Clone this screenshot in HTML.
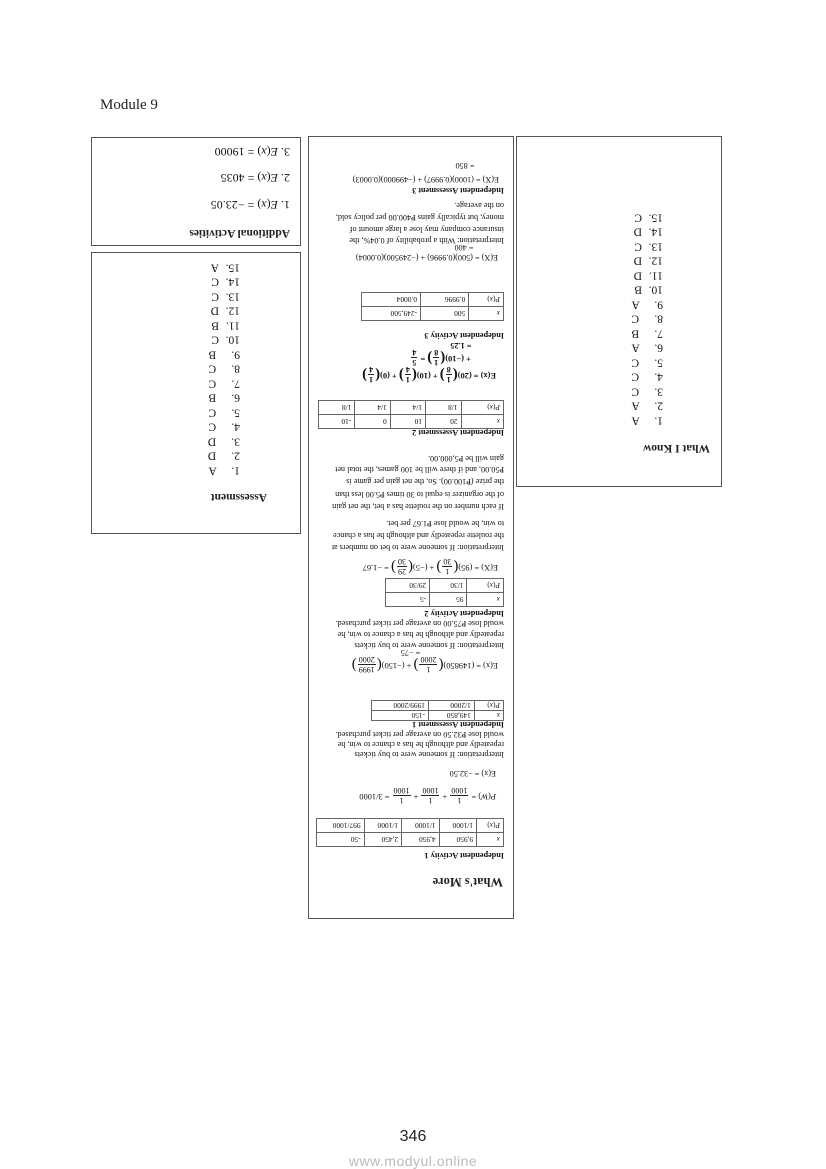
<!DOCTYPE html>
<html><head><meta charset="utf-8">
<style>
body{margin:0;background:#fff;}
#pg{position:relative;width:826px;height:1169px;overflow:hidden;font-family:"Liberation Serif",serif;color:#222;}
.box{position:absolute;border:1.5px solid #555;box-sizing:border-box;}
.r{position:absolute;transform:rotate(180deg);white-space:nowrap;text-align:left;}
.t{font-size:8.2px;line-height:10px;height:10px;color:#111;}
.b{font-weight:bold;}
.h{font-weight:bold;font-size:11.5px;line-height:14px;height:14px;}
.f{display:inline-block;vertical-align:middle;text-align:center;line-height:9px;font-size:8px;margin:0 1px;}
.f span{display:block;padding:0 1px;}
.f span:first-child{border-bottom:0.8px solid #222;}
.p{font-size:15px;vertical-align:middle;}
.eq{font-size:8.4px;line-height:24px;height:24px;color:#111;}
table{border-collapse:collapse;font-size:7.4px;color:#111;}
td{border:0.8px solid #666;padding:0 3px;height:13px;}
.list{font-size:11.5px;color:#111;}
.list div{height:14.5px;line-height:14.5px;}
.list span{display:inline-block;width:21px;}
</style></head><body><div id="pg">

<div style="position:absolute;left:100px;top:97px;font-size:15px;">Module 9</div>

<!-- boxes -->
<div class="box" style="left:91px;top:137px;width:210px;height:109px;"></div>
<div class="box" style="left:91px;top:252px;width:210px;height:282px;"></div>
<div class="box" style="left:308px;top:136px;width:206px;height:783px;"></div>
<div class="box" style="left:516px;top:136px;width:206px;height:351px;"></div>

<!-- Additional Activities -->
<div class="r h" style="left:150px;top:226px;width:140px;">Additional Activities</div>
<div class="r" style="left:185px;top:197px;width:105px;font-size:12px;line-height:15px;color:#111;">1. <i>E</i>(<i>x</i>) = −23.05</div>
<div class="r" style="left:185px;top:170px;width:105px;font-size:12px;line-height:15px;color:#111;">2. <i>E</i>(<i>x</i>) = 4035</div>
<div class="r" style="left:185px;top:144px;width:105px;font-size:12px;line-height:15px;color:#111;">3. <i>E</i>(<i>x</i>) = 19000</div>

<!-- Assessment -->
<div class="r h" style="left:182px;top:490px;width:85px;">Assessment</div>
<div class="r list" style="left:200px;top:260px;width:40px;">
<div><span>1.</span> A</div><div><span>2.</span> D</div><div><span>3.</span> D</div><div><span>4.</span> C</div><div><span>5.</span> C</div><div><span>6.</span> B</div><div><span>7.</span> C</div><div><span>8.</span> C</div><div><span>9.</span> B</div><div><span>10.</span>C</div><div><span>11.</span>B</div><div><span>12.</span>D</div><div><span>13.</span>C</div><div><span>14.</span>C</div><div><span>15.</span>A</div>
</div>

<!-- What I Know -->
<div class="r h" style="left:622px;top:441px;width:88px;">What I Know</div>
<div class="r list" style="left:620px;top:210px;width:43px;">
<div><span>1.</span> A</div><div><span>2.</span> A</div><div><span>3.</span> C</div><div><span>4.</span> C</div><div><span>5.</span> C</div><div><span>6.</span> A</div><div><span>7.</span> B</div><div><span>8.</span> C</div><div><span>9.</span> A</div><div><span>10.</span>B</div><div><span>11.</span>D</div><div><span>12.</span>D</div><div><span>13.</span>C</div><div><span>14.</span>D</div><div><span>15.</span>C</div>
</div>

<!-- What's More -->
<div class="r h" style="left:412px;top:875px;width:91px;font-size:12.5px;">What's More</div>
<div class="r t b" style="left:318px;top:850px;width:186px;">Independent Activity 1</div>
<div class="r" style="left:316px;top:818px;width:188px;">
<table style="width:188px;"><tr><td><i>x</i></td><td>9,950</td><td>4,950</td><td>2,450</td><td>-50</td></tr>
<tr><td><i>P</i>(<i>x</i>)</td><td>1/1000</td><td>1/1000</td><td>1/1000</td><td>997/1000</td></tr></table></div>
<div class="r eq" style="left:318px;top:784px;width:178px;"><i>P</i>(<i>W</i>) = <span class="f"><span>1</span><span>1000</span></span> + <span class="f"><span>1</span><span>1000</span></span> + <span class="f"><span>1</span><span>1000</span></span> = 3/1000</div>
<div class="r t" style="left:318px;top:768px;width:178px;">E(x) = −32.50</div>
<div class="r t" style="left:318px;top:749px;width:186px;">Interpretation: If someone were to buy tickets</div>
<div class="r t" style="left:318px;top:739px;width:186px;">repeatedly and although he has a chance to win, he</div>
<div class="r t" style="left:318px;top:729px;width:186px;">would lose ₱32.50 on average per ticket purchased.</div>
<div class="r t b" style="left:318px;top:719px;width:186px;">Independent Assessment 1</div>
<div class="r" style="left:371px;top:700px;width:133px;">
<table style="width:133px;"><tr><td style="height:8px"><i>x</i></td><td style="height:8px">149,850</td><td style="height:8px">-150</td></tr>
<tr><td style="height:8px"><i>P</i>(<i>x</i>)</td><td style="height:8px">1/2000</td><td style="height:8px">1999/2000</td></tr></table></div>
<div class="r eq" style="left:318px;top:653px;width:180px;">E(x) = (149850)<span class="p">(</span><span class="f"><span>1</span><span>2000</span></span><span class="p">)</span> + (−150)<span class="p">(</span><span class="f"><span>1999</span><span>2000</span></span><span class="p">)</span></div>
<div class="r t" style="left:318px;top:647px;width:180px;">&nbsp;&nbsp;&nbsp;&nbsp;&nbsp;&nbsp;&nbsp;&nbsp;&nbsp;&nbsp;&nbsp;&nbsp;&nbsp;&nbsp;&nbsp;&nbsp;&nbsp;&nbsp;&nbsp;&nbsp;&nbsp;&nbsp;&nbsp;&nbsp;&nbsp;&nbsp;&nbsp;&nbsp;&nbsp;&nbsp;&nbsp;&nbsp;&nbsp;&nbsp;&nbsp;&nbsp;&nbsp;&nbsp;= −75</div>
<div class="r t" style="left:318px;top:640px;width:186px;">Interpretation: If someone were to buy tickets</div>
<div class="r t" style="left:318px;top:629px;width:186px;">repeatedly and although he has a chance to win, he</div>
<div class="r t" style="left:318px;top:618px;width:186px;">would lose ₱75.00 on average per ticket purchased.</div>
<div class="r t b" style="left:318px;top:608px;width:186px;">Independent Activity 2</div>
<div class="r" style="left:385px;top:578px;width:119px;">
<table style="width:119px;"><tr><td><i>x</i></td><td>95</td><td>-5</td></tr>
<tr><td><i>P</i>(<i>x</i>)</td><td>1/30</td><td>29/30</td></tr></table></div>
<div class="r eq" style="left:318px;top:555px;width:180px;">E(X) = (95)<span class="p">(</span><span class="f"><span>1</span><span>30</span></span><span class="p">)</span> + (−5)<span class="p">(</span><span class="f"><span>29</span><span>30</span></span><span class="p">)</span> = −1.67</div>
<div class="r t" style="left:318px;top:542px;width:186px;">Interpretation: If someone were to bet on numbers at</div>
<div class="r t" style="left:318px;top:530px;width:186px;">the roulette repeatedly and although he has a chance</div>
<div class="r t" style="left:318px;top:518px;width:186px;">to win, he would lose ₱1.67 per bet.</div>
<div class="r t" style="left:318px;top:501px;width:186px;">If each number on the roulette has a bet, the net gain</div>
<div class="r t" style="left:318px;top:489px;width:186px;">of the organizer is equal to 30 times ₱5.00 less than</div>
<div class="r t" style="left:318px;top:476px;width:186px;">the prize (₱100.00). So, the net gain per game is</div>
<div class="r t" style="left:318px;top:464px;width:186px;">₱50.00, and if there will be 100 games, the total net</div>
<div class="r t" style="left:318px;top:453px;width:186px;">gain will be ₱5,000.00.</div>
<div class="r t b" style="left:318px;top:427px;width:186px;">Independent Assessment 2</div>
<div class="r" style="left:318px;top:400px;width:186px;">
<table style="width:186px;"><tr><td><i>x</i></td><td>20</td><td>10</td><td>0</td><td>-10</td></tr>
<tr><td><i>P</i>(<i>x</i>)</td><td>1/8</td><td>1/4</td><td>1/4</td><td>1/8</td></tr></table></div>
<div class="r eq b" style="left:318px;top:363px;width:178px;">E(x) = (20)<span class="p">(</span><span class="f"><span>1</span><span>8</span></span><span class="p">)</span> + (10)<span class="p">(</span><span class="f"><span>1</span><span>4</span></span><span class="p">)</span> + (0)<span class="p">(</span><span class="f"><span>1</span><span>4</span></span><span class="p">)</span></div>
<div class="r eq b" style="left:318px;top:346px;width:178px;">&nbsp;&nbsp;&nbsp;&nbsp;&nbsp;&nbsp;&nbsp;&nbsp;&nbsp;&nbsp;&nbsp;&nbsp;+ (−10)<span class="p">(</span><span class="f"><span>1</span><span>8</span></span><span class="p">)</span> = <span class="f"><span>5</span><span>4</span></span></div>
<div class="r t b" style="left:318px;top:340px;width:178px;">&nbsp;&nbsp;&nbsp;&nbsp;&nbsp;&nbsp;&nbsp;&nbsp;&nbsp;&nbsp;&nbsp;&nbsp;= 1.25</div>
<div class="r t b" style="left:318px;top:330px;width:186px;">Independent Activity 3</div>
<div class="r" style="left:361px;top:292px;width:143px;">
<table style="width:143px;"><tr><td><i>x</i></td><td>500</td><td>-249,500</td></tr>
<tr><td><i>P</i>(<i>x</i>)</td><td>0.9996</td><td>0.0004</td></tr></table></div>
<div class="r t" style="left:318px;top:252px;width:180px;">E(X) = (500)(0.9996) + (−249500)(0.0004)</div>
<div class="r t" style="left:318px;top:242px;width:180px;">&nbsp;&nbsp;&nbsp;&nbsp;&nbsp;&nbsp;&nbsp;&nbsp;&nbsp;&nbsp;&nbsp;&nbsp;= 400</div>
<div class="r t" style="left:318px;top:235px;width:186px;">Interpretation: With a probability of 0.04%, the</div>
<div class="r t" style="left:318px;top:224px;width:186px;">insurance company may lose a large amount of</div>
<div class="r t" style="left:318px;top:212px;width:186px;">money, but typically gains ₱400.00 per policy sold,</div>
<div class="r t" style="left:318px;top:200px;width:186px;">on the average.</div>
<div class="r t b" style="left:318px;top:185px;width:186px;">Independent Assessment 3</div>
<div class="r t" style="left:318px;top:174px;width:181px;">E(X) = (1000)(0.9997) + (−499000)(0.0003)</div>
<div class="r t" style="left:318px;top:160px;width:181px;">&nbsp;&nbsp;&nbsp;&nbsp;&nbsp;&nbsp;&nbsp;&nbsp;&nbsp;&nbsp;&nbsp;&nbsp;= 850</div>

<div style="position:absolute;left:0;width:826px;top:1128px;text-align:center;font-family:'Liberation Sans',sans-serif;font-size:16px;">346</div>
<div style="position:absolute;left:0;width:826px;top:1153px;text-align:center;font-family:'Liberation Sans',sans-serif;font-size:14px;color:#bbb;letter-spacing:0.5px;">www.modyul.online</div>
</div></body></html>
